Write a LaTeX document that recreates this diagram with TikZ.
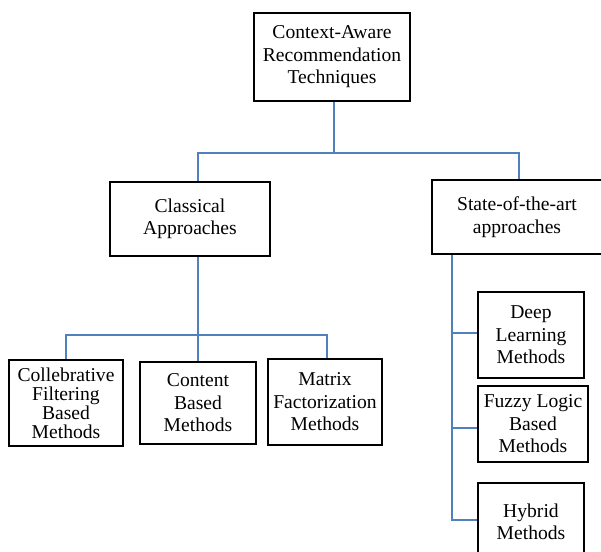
\documentclass[tikz,border=0pt]{standalone}
\usepackage{fontspec}
\setmainfont{Liberation Serif}
\definecolor{conncol}{RGB}{79,129,189}
\begin{document}
\begin{tikzpicture}[x=1pt,y=1pt,
  box/.style={draw=black,line width=2pt,fill=white,align=center,inner sep=0pt,
    font=\fontsize{19.6}{22.5}\selectfont},
  conn/.style={draw=conncol,line width=2pt}]
\clip (0,0) rectangle (601,551);
\fill[white] (0,0) rectangle (601,551);
% boxes
\node[box,minimum width=156,minimum height=88] (root) at (332,494) {Context-Aware\\Recommendation\\Techniques};
\node[box,minimum width=160,minimum height=74] (classical) at (190,332) {Classical\\Approaches};
\node[box,minimum width=170,minimum height=74] (state) at (517,334) {State-of-the-art\\approaches};
\node[box,minimum width=114,minimum height=86,font=\fontsize{19.6}{19}\selectfont] (coll) at (66,148) {Collebrative\\Filtering\\Based\\Methods};
\node[box,minimum width=116,minimum height=82] (content) at (198,148) {Content\\Based\\Methods};
\node[box,minimum width=114,minimum height=86] (matrix) at (325,149) {Matrix\\Factorization\\Methods};
\node[box,minimum width=106,minimum height=86] (deep) at (531,216) {Deep\\Learning\\Methods};
\node[box,minimum width=110,minimum height=76] (fuzzy) at (533,127) {Fuzzy Logic\\Based\\Methods};
\node[box,minimum width=106,minimum height=78] (hybrid) at (531,29) {Hybrid\\Methods};
% junctions
\coordinate (j1) at (334,398);
\coordinate (hL) at (198,398);
\coordinate (hR) at (519,398);
\coordinate (j2) at (198,216);
\coordinate (hR2) at (327,216);
\coordinate (sv) at (452,0);
% connectors
\draw[conn] (root.south -| j1) -- (j1);
\draw[conn] (hL |- classical.north) -- (hL) -- (hR) -- (hR |- state.north);
\draw[conn] (classical.south -| j2) -- (j2);
\draw[conn] (coll.north) |- (j2) -- (hR2) -- (hR2 |- matrix.north);
\draw[conn] (j2) -- (content.north);
\draw[conn] (state.south -| sv) -- ([yshift=2]hybrid.west -| sv) -- ([yshift=2]hybrid.west);
\draw[conn] ([yshift=2]deep.west -| sv) -- ([yshift=2]deep.west);
\draw[conn] ([yshift=-4]fuzzy.west -| sv) -- ([yshift=-4]fuzzy.west);
\end{tikzpicture}
\end{document}
